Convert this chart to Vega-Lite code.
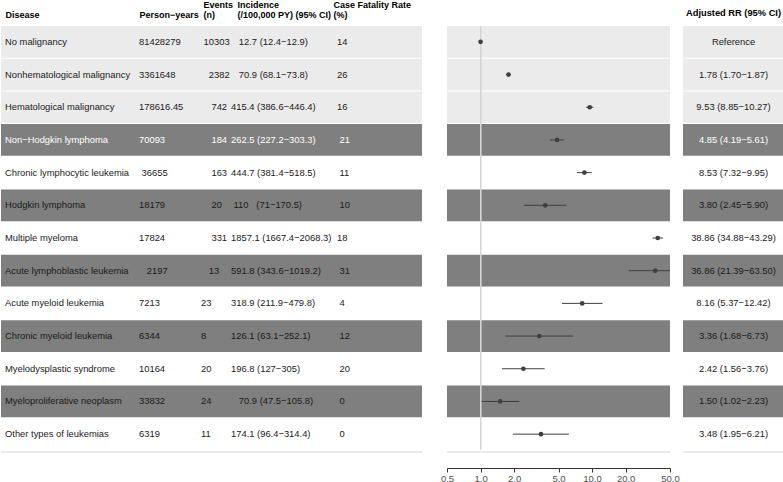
{
  "$schema": "https://vega.github.io/schema/vega-lite/v6.json",
  "padding": 0,
  "autosize": {"type": "pad"},
  "config": {"font": "Liberation Sans", "view": {"stroke": null}},
  "datasets": {
    "tbl": [
      {"disease": "No malignancy", "py": "81428279", "events": "\u200b\u00a010303", "inc": "\u200b\u00a0\u00a0\u00a012.7 (12.4−12.9)", "cfr": "14", "rr": 1, "lo": null, "hi": null, "rrtxt": "Reference", "shade": "light"},
      {"disease": "Nonhematological malignancy", "py": "3361648", "events": "\u200b\u00a0\u00a0\u00a02382", "inc": "\u200b\u00a0\u00a0\u00a070.9 (68.1−73.8)", "cfr": "26", "rr": 1.78, "lo": 1.70, "hi": 1.87, "rrtxt": "1.78 (1.70−1.87)", "shade": "light"},
      {"disease": "Hematological malignancy", "py": "178616.45", "events": "\u200b\u00a0\u00a0\u00a0\u00a0742", "inc": "415.4 (386.6−446.4)", "cfr": "16", "rr": 9.53, "lo": 8.85, "hi": 10.27, "rrtxt": "9.53 (8.85−10.27)", "shade": "light"},
      {"disease": "Non−Hodgkin lymphoma", "py": "70093", "events": "\u200b\u00a0\u00a0\u00a0\u00a0184", "inc": "262.5 (227.2−303.3)", "cfr": "\u200b\u00a021", "rr": 4.85, "lo": 4.19, "hi": 5.61, "rrtxt": "4.85 (4.19−5.61)", "shade": "nhl"},
      {"disease": "Chronic lymphocytic leukemia", "py": "\u200b\u00a036655", "events": "\u200b\u00a0\u00a0\u00a0\u00a0163", "inc": "444.7 (381.4−518.5)", "cfr": "\u200b\u00a011", "rr": 8.53, "lo": 7.32, "hi": 9.95, "rrtxt": "8.53 (7.32−9.95)", "shade": "white"},
      {"disease": "Hodgkin lymphoma", "py": "18179", "events": "\u200b\u00a0\u00a0\u00a0\u00a020", "inc": "\u200b\u00a0110\u00a0\u00a0 (71−170.5)", "cfr": "\u200b\u00a010", "rr": 3.80, "lo": 2.45, "hi": 5.90, "rrtxt": "3.80 (2.45−5.90)", "shade": "dark"},
      {"disease": "Multiple myeloma", "py": "17824", "events": "\u200b\u00a0\u00a0\u00a0\u00a0331", "inc": "1857.1 (1667.4−2068.3)", "cfr": "18", "rr": 38.86, "lo": 34.88, "hi": 43.29, "rrtxt": "38.86 (34.88−43.29)", "shade": "white"},
      {"disease": "Acute lymphoblastic leukemia", "py": "\u200b\u00a0\u00a0\u00a02197", "events": "\u200b\u00a0\u00a0\u00a013", "inc": "591.8 (343.6−1019.2)", "cfr": "\u200b\u00a031", "rr": 36.86, "lo": 21.39, "hi": 63.50, "rrtxt": "36.86 (21.39−63.50)", "shade": "dark"},
      {"disease": "Acute myeloid leukemia", "py": "7213", "events": "23", "inc": "318.9 (211.9−479.8)", "cfr": "\u200b\u00a04", "rr": 8.16, "lo": 5.37, "hi": 12.42, "rrtxt": "8.16 (5.37−12.42)", "shade": "white"},
      {"disease": "Chronic myeloid leukemia", "py": "6344", "events": "8", "inc": "126.1 (63.1−252.1)", "cfr": "\u200b\u00a012", "rr": 3.36, "lo": 1.68, "hi": 6.73, "rrtxt": "3.36 (1.68−6.73)", "shade": "dark"},
      {"disease": "Myelodysplastic syndrome", "py": "10164", "events": "20", "inc": "196.8 (127−305)", "cfr": "\u200b\u00a020", "rr": 2.42, "lo": 1.56, "hi": 3.76, "rrtxt": "2.42 (1.56−3.76)", "shade": "white"},
      {"disease": "Myeloproliferative neoplasm", "py": "33832", "events": "24", "inc": "\u200b\u00a0\u00a0\u00a070.9 (47.5−105.8)", "cfr": "\u200b\u00a00", "rr": 1.50, "lo": 1.02, "hi": 2.23, "rrtxt": "1.50 (1.02−2.23)", "shade": "dark"},
      {"disease": "Other types of leukemias", "py": "6319", "events": "11", "inc": "174.1 (96.4−314.4)", "cfr": "\u200b\u00a00", "rr": 3.48, "lo": 1.95, "hi": 6.21, "rrtxt": "3.48 (1.95−6.21)", "shade": "white"}
    ],
    "cols": [
      {"key": "disease", "col": 0},
      {"key": "py", "col": 1},
      {"key": "events", "col": 2},
      {"key": "inc", "col": 3},
      {"key": "cfr", "col": 4}
    ]
  },
  "spacing": 25,
  "bounds": "flush",
  "hconcat": [
    {
      "width": 421,
      "height": 424,
      "data": {"name": "tbl"},
      "layer": [
        {
          "mark": {"type": "rect"},
          "encoding": {
            "y": {"field": "disease", "type": "nominal", "axis": null, "scale": {"domain": ["No malignancy", "Nonhematological malignancy", "Hematological malignancy", "Non−Hodgkin lymphoma", "Chronic lymphocytic leukemia", "Hodgkin lymphoma", "Multiple myeloma", "Acute lymphoblastic leukemia", "Acute myeloid leukemia", "Chronic myeloid leukemia", "Myelodysplastic syndrome", "Myeloproliferative neoplasm", "Other types of leukemias"], "paddingInner": 0.03, "paddingOuter": 0}},
            "color": {"field": "shade", "type": "nominal", "legend": null, "scale": {"domain": ["light", "nhl", "dark", "white"], "range": ["#ebebeb", "#7f7f7f", "#7f7f7f", "#ffffff"]}}
          }
        },
        {
          "transform": [
            {"fold": ["disease", "py", "events", "inc", "cfr"]},
            {"lookup": "key", "from": {"data": {"name": "cols"}, "key": "key", "fields": ["col"]}}
          ],
          "mark": {"type": "text", "align": "left", "baseline": "middle", "fontSize": 9.4},
          "encoding": {
            "x": {
              "field": "col", "type": "quantitative",
              "scale": {"domain": [0, 1, 2, 3, 4], "range": [4, 138, 200, 230, 336], "nice": false, "zero": false},
              "axis": {
                "orient": "top", "title": null, "grid": false, "ticks": false, "domain": false,
                "values": [0, 1, 2.067, 3.057, 3.962],
                "labelExpr": "datum.value < 0.5 ? ['', 'Disease'] : datum.value < 1.5 ? ['', 'Person−years'] : datum.value < 2.5 ? ['Events', '(n)'] : datum.value < 3.5 ? ['Incidence', '(/100,000 PY) (95% CI)'] : ['Case Fatality Rate', '(%)']",
                "labelAlign": "left", "labelBaseline": "bottom", "labelFontWeight": "bold", "labelFontSize": 9,
                "labelColor": "#000000", "labelLineHeight": 10, "labelPadding": 17,
                "labelFlush": false, "labelOverlap": false, "labelBound": false
              }
            },
            "y": {"field": "disease", "type": "nominal", "axis": null},
            "text": {"field": "value", "type": "nominal"},
            "fill": {"field": "shade", "type": "nominal", "legend": null, "scale": {"domain": ["light", "nhl", "dark", "white"], "range": ["#1a1a1a", "#ffffff", "#1a1a1a", "#1a1a1a"]}}
          }
        },
        {
          "transform": [{"filter": "datum.disease == 'Other types of leukemias'"}],
          "mark": {"type": "rule", "color": "#ebebeb", "strokeWidth": 2, "yOffset": 2},
          "encoding": {"y": {"field": "disease", "type": "nominal", "bandPosition": 1, "axis": null}}
        }
      ]
    },
    {
      "spacing": 13,
      "bounds": "flush",
      "hconcat": [
        {
          "width": 223,
          "height": 424,
          "data": {"name": "tbl"},
          "layer": [
            {
              "mark": {"type": "rect"},
              "encoding": {
                "y": {"field": "disease", "type": "nominal", "axis": null, "scale": {"domain": ["No malignancy", "Nonhematological malignancy", "Hematological malignancy", "Non−Hodgkin lymphoma", "Chronic lymphocytic leukemia", "Hodgkin lymphoma", "Multiple myeloma", "Acute lymphoblastic leukemia", "Acute myeloid leukemia", "Chronic myeloid leukemia", "Myelodysplastic syndrome", "Myeloproliferative neoplasm", "Other types of leukemias"], "paddingInner": 0.03, "paddingOuter": 0}},
                "color": {"field": "shade", "type": "nominal", "legend": null, "scale": {"domain": ["light", "nhl", "dark", "white"], "range": ["#ebebeb", "#7f7f7f", "#7f7f7f", "#ffffff"]}}
              }
            },
            {
              "transform": [{"filter": "datum.disease == 'Other types of leukemias'"}],
              "mark": {"type": "rule", "color": "#ebebeb", "strokeWidth": 2, "yOffset": 2},
              "encoding": {"y": {"field": "disease", "type": "nominal", "bandPosition": 1, "axis": null}}
            },
            {
              "mark": {"type": "rule", "color": "#d4d4d4", "strokeWidth": 1},
              "encoding": {"x": {"datum": 1, "type": "quantitative"}}
            },
            {
              "mark": {"type": "rule", "color": "#3f3f3f", "strokeWidth": 1, "clip": true},
              "encoding": {
                "x": {"field": "lo", "type": "quantitative"},
                "x2": {"field": "hi"},
                "y": {"field": "disease", "type": "nominal", "axis": null}
              }
            },
            {
              "mark": {"type": "point", "filled": true, "opacity": 1, "color": "#3f3f3f", "size": 22},
              "encoding": {
                "x": {
                  "field": "rr", "type": "quantitative",
                  "scale": {"type": "log", "domain": [0.5, 50], "nice": false},
                  "axis": {
                    "title": null, "grid": false, "orient": "bottom", "offset": 18,
                    "values": [0.5, 1, 2, 5, 10, 20, 50], "format": ".1f",
                    "tickSize": 4, "tickColor": "#333333", "domainColor": "#333333",
                    "labelColor": "#4d4d4d", "labelFontSize": 9.5, "labelPadding": 1,
                    "labelFlush": false, "labelOverlap": false, "labelBound": false
                  }
                },
                "y": {"field": "disease", "type": "nominal", "axis": null}
              }
            }
          ]
        },
        {
          "width": 101,
          "height": 424,
          "data": {"name": "tbl"},
          "title": {"text": "Adjusted RR (95% CI)", "fontSize": 9.3, "fontWeight": "bold", "anchor": "middle", "offset": 8, "color": "#000000"},
          "layer": [
            {
              "mark": {"type": "rect"},
              "encoding": {
                "y": {"field": "disease", "type": "nominal", "axis": null, "scale": {"domain": ["No malignancy", "Nonhematological malignancy", "Hematological malignancy", "Non−Hodgkin lymphoma", "Chronic lymphocytic leukemia", "Hodgkin lymphoma", "Multiple myeloma", "Acute lymphoblastic leukemia", "Acute myeloid leukemia", "Chronic myeloid leukemia", "Myelodysplastic syndrome", "Myeloproliferative neoplasm", "Other types of leukemias"], "paddingInner": 0.03, "paddingOuter": 0}},
                "color": {"field": "shade", "type": "nominal", "legend": null, "scale": {"domain": ["light", "nhl", "dark", "white"], "range": ["#ebebeb", "#7f7f7f", "#7f7f7f", "#ffffff"]}}
              }
            },
            {
              "mark": {"type": "text", "baseline": "middle", "fontSize": 9.4},
              "encoding": {
                "y": {"field": "disease", "type": "nominal", "axis": null},
                "text": {"field": "rrtxt", "type": "nominal"},
                "fill": {"field": "shade", "type": "nominal", "legend": null, "scale": {"domain": ["light", "nhl", "dark", "white"], "range": ["#1a1a1a", "#ffffff", "#1a1a1a", "#1a1a1a"]}}
              }
            },
            {
              "transform": [{"filter": "datum.disease == 'Other types of leukemias'"}],
              "mark": {"type": "rule", "color": "#ebebeb", "strokeWidth": 2, "yOffset": 2},
              "encoding": {"y": {"field": "disease", "type": "nominal", "bandPosition": 1, "axis": null}}
            }
          ]
        }
      ]
    }
  ]
}
